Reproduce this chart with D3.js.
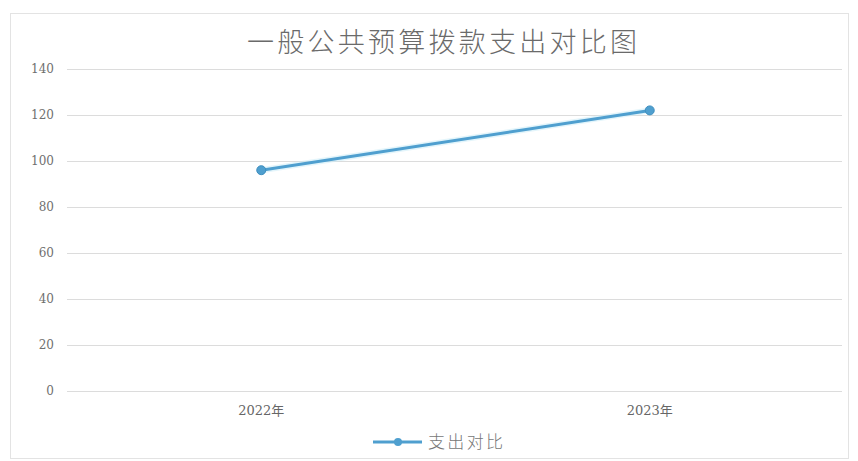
<!DOCTYPE html>
<html>
<head>
<meta charset="utf-8">
<script src="https://cdn.jsdelivr.net/npm/d3@7"></script>
<style>
  html, body { margin: 0; padding: 0; background: #ffffff; }
  svg { display: block; }
</style>
</head>
<body>
<svg id="chart" width="858" height="461"></svg>
<script>
const title = "一般公共预算拨款支出对比图";
const categories = ["2022年", "2023年"];
const seriesName = "支出对比";
const values = [96, 122];
const yTicks = [0, 20, 40, 60, 80, 100, 120, 140];

const W = 858, H = 461;
const margin = { top: 69, right: 14, bottom: 70, left: 67 };
const svg = d3.select("#chart");
const color = "#4f9fcf";
const font = "'Noto Sans CJK SC', 'Noto Sans', sans-serif";

// outer border
svg.append("rect")
  .attr("x", 10.5).attr("y", 13.5)
  .attr("width", 838).attr("height", 445)
  .attr("fill", "#ffffff")
  .attr("stroke", "#e3e3e3").attr("stroke-width", 1);

const x = d3.scaleBand().domain(categories)
  .range([margin.left, W - margin.right]).padding(0);
const y = d3.scaleLinear().domain([0, 140])
  .range([391, margin.top]);

// title
svg.append("text")
  .attr("x", 442).attr("y", 52)
  .attr("text-anchor", "middle")
  .attr("font-family", font)
  .attr("font-size", 27)
  .attr("font-weight", 300)
  .attr("fill", "#6a6a6a")
  .attr("textLength", 390)
  .attr("lengthAdjust", "spacing")
  .text(title);

// y axis gridlines + labels
const yAxis = d3.axisLeft(y).tickValues(yTicks)
  .tickSize(-(W - margin.right - margin.left - 2))
  .tickPadding(13)
  .tickFormat(d3.format("d"));
const gy = svg.append("g")
  .attr("transform", `translate(${margin.left},0)`)
  .call(yAxis);
gy.select(".domain").remove();
gy.selectAll(".tick line").attr("stroke", "#dcdcdc").attr("stroke-width", 1);
gy.selectAll(".tick text")
  .attr("fill", "#6f6f6f")
  .attr("font-family", "'DejaVu Serif', serif")
  .attr("font-size", 12);

// x axis labels
const xAxis = d3.axisBottom(x).tickSize(0).tickPadding(15);
const gx = svg.append("g")
  .attr("transform", `translate(0,${y(0)})`)
  .call(xAxis);
gx.select(".domain").remove();
gx.selectAll(".tick text")
  .attr("fill", "#666666")
  .attr("font-family", "'DejaVu Serif', 'Noto Sans CJK SC', serif")
  .attr("font-size", 13);

// line
const pts = categories.map((c, i) => ({ c, v: values[i] }));
const line = d3.line()
  .x(d => x(d.c) + x.bandwidth() / 2)
  .y(d => y(d.v));

svg.append("path")
  .datum(pts)
  .attr("fill", "none")
  .attr("stroke", "#c8ebf7")
  .attr("stroke-width", 6)
  .attr("stroke-opacity", 0.5)
  .attr("d", line);
svg.append("path")
  .datum(pts)
  .attr("fill", "none")
  .attr("stroke", color)
  .attr("stroke-width", 3)
  .attr("d", line);

svg.selectAll("circle.pt")
  .data(pts).enter().append("circle")
  .attr("class", "pt")
  .attr("cx", d => x(d.c) + x.bandwidth() / 2)
  .attr("cy", d => y(d.v))
  .attr("r", 4.5)
  .attr("fill", color)
  .attr("stroke", "#3f8fbf")
  .attr("stroke-width", 1);

// legend
const lg = svg.append("g").attr("transform", "translate(373,442)");
lg.append("line")
  .attr("x1", 0).attr("x2", 49).attr("y1", 0).attr("y2", 0)
  .attr("stroke", color).attr("stroke-width", 3);
lg.append("circle")
  .attr("cx", 25).attr("cy", 0).attr("r", 4)
  .attr("fill", color);
lg.append("text")
  .attr("x", 55).attr("y", 0)
  .attr("dy", "0.35em")
  .attr("font-family", font)
  .attr("font-size", 17)
  .attr("font-weight", 300)
  .attr("fill", "#777777")
  .attr("textLength", 75)
  .attr("lengthAdjust", "spacing")
  .text(seriesName);
</script>
</body>
</html>
